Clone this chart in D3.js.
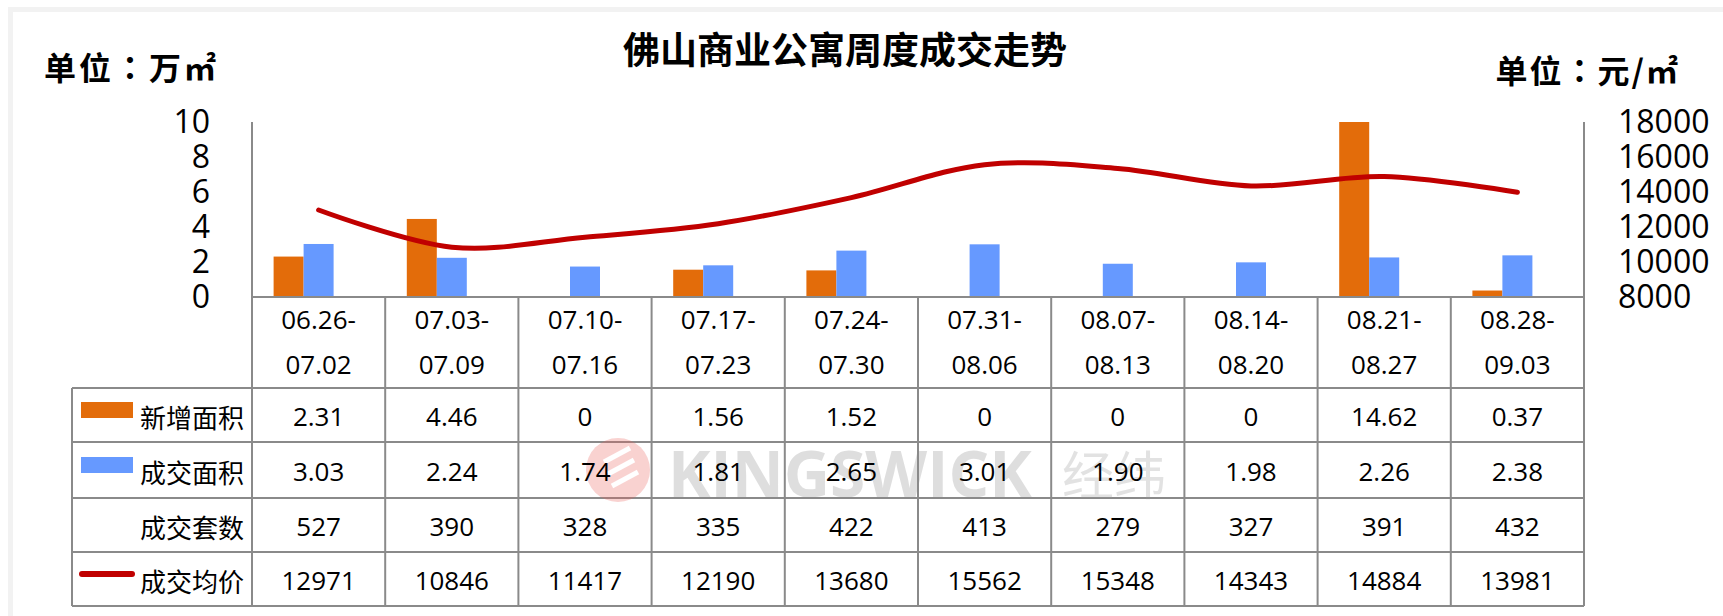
<!DOCTYPE html>
<html>
<head>
<meta charset="utf-8">
<script src="https://cdn.jsdelivr.net/npm/d3@7"></script>
<style>
  html, body { margin: 0; padding: 0; background: #fff; }
  svg { display: block; }
  text { font-family: "Open Sans", "Noto Sans CJK SC", sans-serif; fill: #000; }
  .cjk { font-family: "Noto Sans CJK SC", sans-serif; }
  .unit { font-family: "Noto Sans CJK TC", "Noto Sans CJK SC", sans-serif; }
</style>
</head>
<body>
<div id="chart"></div>
<script>
// ================================
// Data
// ================================
const categories = ['06.26-07.02', '07.03-07.09', '07.10-07.16', '07.17-07.23', '07.24-07.30',
                    '07.31-08.06', '08.07-08.13', '08.14-08.20', '08.21-08.27', '08.28-09.03'];
const newArea   = [2.31, 4.46, 0, 1.56, 1.52, 0, 0, 0, 14.62, 0.37];
const dealArea  = [3.03, 2.24, 1.74, 1.81, 2.65, 3.01, 1.90, 1.98, 2.26, 2.38];
const dealUnits = [527, 390, 328, 335, 422, 413, 279, 327, 391, 432];
const avgPrice  = [12971, 10846, 11417, 12190, 13680, 15562, 15348, 14343, 14884, 13981];
const leftTicks  = [0, 2, 4, 6, 8, 10];
const rightTicks = [8000, 10000, 12000, 14000, 16000, 18000];

const seriesNames = ['新增面积', '成交面积', '成交套数', '成交均价'];
const colors = { '新增面积': '#E36C0A', '成交面积': '#6699FF', '成交均价': '#C00000' };

// ================================
// Layout
// ================================
const W = 1723, H = 616;
const plot = { left: 252, right: 1584, top: 122, bottom: 297 };
const tableLeft = 72;
const rowLines = [388, 442, 498, 552, 606];

const svg = d3.select('#chart').append('svg')
  .attr('width', W)
  .attr('height', H);

// light grey frame (only top/left edge visible)
svg.append('rect')
  .attr('x', 10.5).attr('y', 9.5)
  .attr('width', W + 20).attr('height', H + 20)
  .attr('fill', 'none')
  .attr('stroke', '#f2f2f2')
  .attr('stroke-width', 5);

// Scales
const x0 = d3.scaleBand()
  .domain(categories)
  .range([plot.left, plot.right])
  .padding(0);

// three bar slots per week; the third (成交套数) is not drawn
const x1 = d3.scaleBand()
  .domain(seriesNames.slice(0, 3))
  .range([0, x0.bandwidth()])
  .paddingInner(0)
  .paddingOuter(0.72);

const yL = d3.scaleLinear().domain([0, 10]).range([plot.bottom, plot.top]);
const yR = d3.scaleLinear().domain([8000, 18000]).range([plot.bottom, plot.top]);

// ================================
// Bars
// ================================
svg.append('clipPath').attr('id', 'plotClip')
  .append('rect')
  .attr('x', plot.left).attr('y', plot.top)
  .attr('width', plot.right - plot.left)
  .attr('height', plot.bottom - plot.top);

const barGroup = svg.append('g').attr('clip-path', 'url(#plotClip)');
const barSeries = [
  { name: '新增面积', values: newArea },
  { name: '成交面积', values: dealArea }
];
barSeries.forEach(s => {
  barGroup.selectAll(null)
    .data(s.values)
    .enter()
    .append('rect')
    .attr('x', (d, i) => x0(categories[i]) + x1(s.name))
    .attr('y', d => yL(d))
    .attr('width', x1.bandwidth())
    .attr('height', d => plot.bottom - yL(d))
    .attr('fill', colors[s.name]);
});

// ================================
// Price line
// ================================
const line = d3.line()
  .x((d, i) => x0(categories[i]) + x0.bandwidth() / 2)
  .y(d => yR(d))
  .curve(d3.curveCardinal.tension(0));

svg.append('path')
  .datum(avgPrice)
  .attr('fill', 'none')
  .attr('stroke', colors['成交均价'])
  .attr('stroke-width', 5)
  .attr('stroke-linecap', 'round')
  .attr('d', line);

// ================================
// Axes
// ================================
const gridColor = '#8a8a8a';

const leftAxis = svg.append('g')
  .attr('transform', `translate(${plot.left},0)`)
  .call(d3.axisLeft(yL).tickValues(leftTicks).tickSize(0).tickPadding(42));
leftAxis.select('.domain').remove();
leftAxis.selectAll('text')
  .attr('font-size', '32px')
  .attr('font-family', '"Open Sans", sans-serif')
  .attr('fill', '#000');

const rightAxis = svg.append('g')
  .attr('transform', `translate(${plot.right},0)`)
  .call(d3.axisRight(yR).tickValues(rightTicks).tickFormat(d3.format('d')).tickSize(0).tickPadding(34));
rightAxis.select('.domain').remove();
rightAxis.selectAll('text')
  .attr('font-size', '32px')
  .attr('font-family', '"Open Sans", sans-serif')
  .attr('fill', '#000');

// ================================
// Data table
// ================================
const grid = svg.append('g')
  .attr('stroke', gridColor)
  .attr('stroke-width', 2)
  .attr('fill', 'none');

// baseline of the plot
grid.append('line')
  .attr('x1', plot.left).attr('x2', plot.right)
  .attr('y1', plot.bottom).attr('y2', plot.bottom);

// horizontal row lines
rowLines.forEach(y => {
  grid.append('line')
    .attr('x1', tableLeft).attr('x2', plot.right)
    .attr('y1', y).attr('y2', y);
});

// left axis / right axis run down through the table
grid.append('line').attr('x1', plot.left).attr('x2', plot.left)
  .attr('y1', plot.top).attr('y2', rowLines[rowLines.length - 1]);
grid.append('line').attr('x1', plot.right).attr('x2', plot.right)
  .attr('y1', plot.top).attr('y2', rowLines[rowLines.length - 1]);
grid.append('line').attr('x1', tableLeft).attr('x2', tableLeft)
  .attr('y1', rowLines[0]).attr('y2', rowLines[rowLines.length - 1]);

// column dividers
categories.slice(1).forEach(c => {
  grid.append('line')
    .attr('x1', x0(c)).attr('x2', x0(c))
    .attr('y1', plot.bottom).attr('y2', rowLines[rowLines.length - 1]);
});

// watermark
const wm = svg.append('g').attr('opacity', 0.28);
wm.append('circle')
  .attr('cx', 618).attr('cy', 470).attr('r', 32)
  .attr('fill', '#ec5f5a');
[[-14, -8], [-10, 4], [-6, 16]].forEach(([dx, dy]) => {
  wm.append('line')
    .attr('x1', 618 + dx).attr('y1', 470 + dy)
    .attr('x2', 618 + dx + 26).attr('y2', 470 + dy - 14)
    .attr('stroke', '#fff').attr('stroke-width', 5);
});
wm.append('text')
  .attr('x', 668).attr('y', 472)
  .attr('dominant-baseline', 'central')
  .attr('font-size', '64px')
  .attr('font-weight', 'bold')
  .attr('font-family', '"Open Sans", sans-serif')
  .style('fill', '#8c8c8c')
  .text('KINGSWICK');
wm.append('text')
  .attr('class', 'cjk')
  .attr('x', 1062).attr('y', 472)
  .attr('dominant-baseline', 'central')
  .attr('font-size', '52px')
  .style('fill', '#9a9a9a')
  .text('经纬');

// category labels (two lines)
const catLabels = svg.append('g');
categories.forEach(c => {
  const [a, b] = c.split('-');
  const cx = x0(c) + x0.bandwidth() / 2;
  catLabels.append('text')
    .attr('x', cx).attr('y', 319)
    .attr('text-anchor', 'middle')
    .attr('dominant-baseline', 'central')
    .attr('font-size', '26px')
    .text(a + '-');
  catLabels.append('text')
    .attr('x', cx).attr('y', 364)
    .attr('text-anchor', 'middle')
    .attr('dominant-baseline', 'central')
    .attr('font-size', '26px')
    .text(b);
});

// table rows
const rows = [
  { name: '新增面积', values: newArea.map(d => d === 0 ? '0' : d.toFixed(2)) },
  { name: '成交面积', values: dealArea.map(d => d.toFixed(2)) },
  { name: '成交套数', values: dealUnits.map(String) },
  { name: '成交均价', values: avgPrice.map(String) }
];

rows.forEach((row, r) => {
  const cy = (rowLines[r] + rowLines[r + 1]) / 2 + 1;

  // legend key
  if (row.name === '新增面积' || row.name === '成交面积') {
    svg.append('rect')
      .attr('x', 81).attr('y', cy - 14)
      .attr('width', 52).attr('height', 16)
      .attr('fill', colors[row.name]);
  } else if (row.name === '成交均价') {
    svg.append('line')
      .attr('x1', 82).attr('x2', 132)
      .attr('y1', cy - 6).attr('y2', cy - 6)
      .attr('stroke', colors[row.name])
      .attr('stroke-width', 6)
      .attr('stroke-linecap', 'round');
  }

  svg.append('text')
    .attr('class', 'cjk')
    .attr('x', 244).attr('y', cy)
    .attr('text-anchor', 'end')
    .attr('dominant-baseline', 'central')
    .attr('font-size', '26px')
    .text(row.name);

  row.values.forEach((v, i) => {
    svg.append('text')
      .attr('x', x0(categories[i]) + x0.bandwidth() / 2)
      .attr('y', cy)
      .attr('text-anchor', 'middle')
      .attr('dominant-baseline', 'central')
      .attr('font-size', '26px')
      .text(v);
  });
});

// ================================
// Titles
// ================================
svg.append('text')
  .attr('class', 'cjk')
  .attr('x', 845).attr('y', 48)
  .attr('text-anchor', 'middle')
  .attr('dominant-baseline', 'central')
  .attr('font-size', '37px')
  .attr('font-weight', 'bold')
  .text('佛山商业公寓周度成交走势');

svg.append('text')
  .attr('class', 'unit')
  .attr('x', 44).attr('y', 66)
  .attr('dominant-baseline', 'central')
  .attr('font-size', '32px')
  .attr('font-weight', 'bold')
  .attr('letter-spacing', '3px')
  .text('单位：万㎡');

svg.append('text')
  .attr('class', 'unit')
  .attr('x', 1680).attr('y', 69)
  .attr('text-anchor', 'end')
  .attr('dominant-baseline', 'central')
  .attr('font-size', '32px')
  .attr('font-weight', 'bold')
  .attr('letter-spacing', '2px')
  .text('单位：元/㎡');
</script>
</body>
</html>
